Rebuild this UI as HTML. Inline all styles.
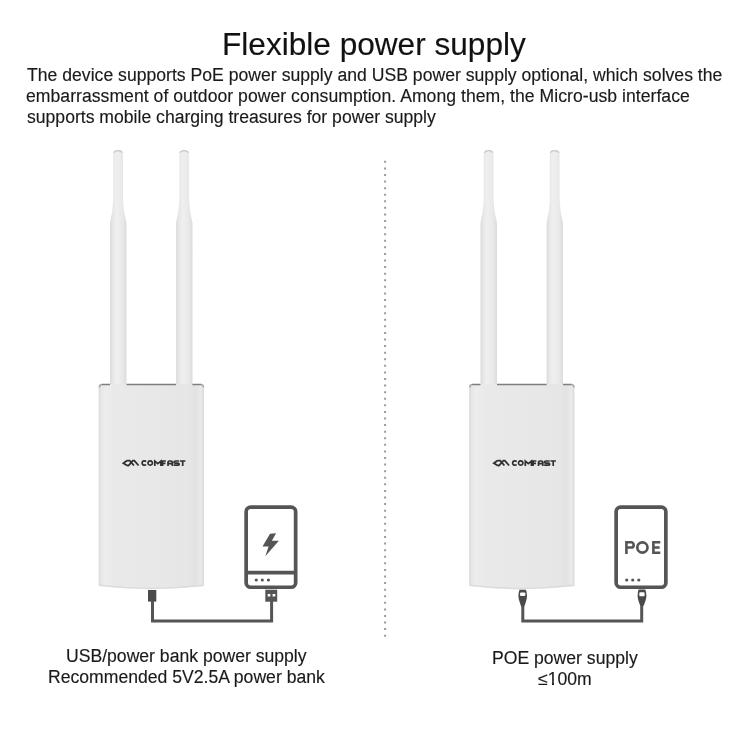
<!DOCTYPE html>
<html><head><meta charset="utf-8">
<style>
html,body{margin:0;padding:0;background:#fff;width:750px;height:750px;overflow:hidden;}
body{position:relative;font-family:"Liberation Sans",sans-serif;color:#1a1a1a;}
.t{position:absolute;white-space:nowrap;line-height:1;will-change:transform;-webkit-text-stroke:0.15px #1a1a1a;}
#title{left:221.8px;top:28.6px;font-size:31.6px;color:#111;}
#p1{left:26.6px;top:67.0px;font-size:17.6px;letter-spacing:0.012px;}
#p2{left:25.8px;top:87.5px;font-size:17.6px;letter-spacing:0.035px;}
#p3{left:26.5px;top:109.3px;font-size:17.6px;}
#c1{left:66px;top:647.7px;font-size:17.6px;}
#c2{left:48px;top:669px;font-size:17.6px;}
#c3{left:492.3px;top:650.1px;font-size:17.6px;}
#c4{left:538px;top:671.2px;font-size:17.6px;}
svg{position:absolute;left:0;top:0;}
</style></head><body>
<svg width="750" height="750" viewBox="0 0 750 750">
  <defs>
    <linearGradient id="ag" x1="0" x2="1" y1="0" y2="0">
      <stop offset="0" stop-color="#dadada"/><stop offset="0.18" stop-color="#e8e8e8"/><stop offset="0.4" stop-color="#efefef"/><stop offset="0.75" stop-color="#e9e9e9"/><stop offset="1" stop-color="#dcdcdc"/>
    </linearGradient>
    <linearGradient id="bg" x1="0" x2="1" y1="0" y2="0">
      <stop offset="0" stop-color="#d8d8d8"/><stop offset="0.02" stop-color="#e6e6e6"/><stop offset="0.06" stop-color="#ededed"/><stop offset="0.16" stop-color="#e9e9e9"/><stop offset="0.5" stop-color="#e8e8e8"/><stop offset="0.86" stop-color="#e6e6e6"/><stop offset="0.92" stop-color="#e2e2e2"/><stop offset="0.97" stop-color="#eaeaea"/><stop offset="1" stop-color="#dadada"/>
    </linearGradient>
    <g id="dev">
      <!-- antennas -->
      <path d="M113.2,153.2 Q113.4,150 118.1,150 Q122.9,150 123,153.2 L123,199.5 Q123.4,212 126.5,223 L126.5,387 L110,387 L110,223 Q112.8,212 113.2,199.5 Z" fill="url(#ag)"/>
      <path d="M179.3,153.2 Q179.5,150 184.2,150 Q189,150 189.1,153.2 L189.1,199.5 Q189.5,212 192.5,223 L192.5,387 L176.1,387 L176.1,223 Q178.9,212 179.3,199.5 Z" fill="url(#ag)"/>
      <path d="M113.8,152.6 Q115,150.7 118.1,150.7 Q121.2,150.7 122.4,152.6" fill="none" stroke="#c8c8c8" stroke-width="1.2"/>
      <path d="M179.9,152.6 Q181.1,150.7 184.2,150.7 Q187.3,150.7 188.5,152.6" fill="none" stroke="#c8c8c8" stroke-width="1.2"/>
      <!-- body -->
      <path d="M98.7,386.5 Q98.7,384 101,384 L201.7,384 Q204,384 204,386.5 L204,586 Q151.3,592.5 98.7,586 Z" fill="url(#bg)"/>
      <path d="M99,585.3 Q151.3,591.6 203.7,585.3" fill="none" stroke="#dcdcdc" stroke-width="1.4"/>
      <path d="M101.5,384.5 L110,384.5 M126.5,384.5 L176.1,384.5 M192.4,384.5 L201.2,384.5" fill="none" stroke="#7e7e7e" stroke-width="1.5"/>
      <path d="M99.3,387.5 Q99.5,384.5 101.8,384.5 M201,384.5 Q203.3,384.5 203.5,387.5" fill="none" stroke="#a6a6a6" stroke-width="1.5"/>
      <!-- logo -->
      <path d="M127.1,460.6 L123.4,463.15 L127.1,465.5 M127.1,460.6 L129.7,460.6 L133.9,465.5 M127.1,465.5 L128.5,465.5 L132.9,460.6 L134.3,460.6 L138.6,465.5" fill="none" stroke="#303030" stroke-width="1.8" stroke-linejoin="miter"/>
      <path d="M146.2,461.5 Q145.4,460.95 144.3,460.95 A2.15,2.1 0 0 0 144.3,465.15 Q145.4,465.15 146.2,464.6 M150.2,460.95 A2.25,2.1 0 1 0 150.21,460.95 Z M154.8,465.9 V461 L157.85,463.6 L160.9,461 V465.9 M162.6,465.9 V461 H165.9 M162.6,463.3 H165.5 M168,465.9 V462.6 Q168,461 169.7,461 H170.6 Q172.3,461 172.3,462.6 V465.9 M168,463.7 H172.3 M179.2,461 H175.5 Q174,461 174,462.1 Q174,463.1 175.5,463.1 H177.7 Q179.2,463.1 179.2,464.2 Q179.2,465.2 177.7,465.2 H173.7 M180,461 H185.4 M182.7,461 V465.9" fill="none" stroke="#303030" stroke-width="1.7"/>
    </g>
  </defs>
  <use href="#dev"/>
  <use href="#dev" transform="translate(370.5,0)"/>

  <!-- dotted divider -->
  <line x1="385.1" y1="160.8" x2="385.1" y2="637" stroke="#9a9a9a" stroke-width="2" stroke-dasharray="2 4.582"/>

  <!-- left connector & cable -->
  <rect x="148" y="590" width="8.3" height="11.6" fill="#4a4a4a"/>
  <path d="M152.5,601 L152.5,621.1 L271.6,621.1 L271.6,601" fill="none" stroke="#555" stroke-width="3"/>

  <!-- power bank -->
  <rect x="246.15" y="507.15" width="49.5" height="80.1" rx="4.5" fill="#fff" stroke="#555" stroke-width="3.7"/>
  <line x1="246" y1="572.7" x2="296" y2="572.7" stroke="#555" stroke-width="3.7"/>
  <circle cx="256.3" cy="580" r="1.6" fill="#555"/>
  <circle cx="262.3" cy="580" r="1.6" fill="#555"/>
  <circle cx="268.4" cy="580" r="1.6" fill="#555"/>
  <path d="M270,533.7 L276.1,533.3 L271.9,540.7 L278.9,540.7 L265.3,556.2 L268.6,546.4 L262.5,546.4 Z" fill="#555"/>
  <rect x="265.3" y="589.7" width="11.9" height="12" fill="#555"/>
  <rect x="267.7" y="594" width="2.6" height="2.5" fill="#fff"/>
  <rect x="272.6" y="594" width="2.7" height="2.5" fill="#fff"/>

  <!-- right connector & cable -->
  <path d="M522.8,606 L522.8,621.1 L641.7,621.1 L641.7,605.5" fill="none" stroke="#555" stroke-width="3"/>
  <path d="M519.5,589.8 H525.9 Q527,592 527,595.8 Q527,599.5 524.3,606.5 H521.2 Q518.4,599.5 518.4,595.8 Q518.4,592 519.5,589.8 Z" fill="#4a4a4a"/>
  <rect x="520.1" y="592.4" width="5.2" height="3.6" rx="0.8" fill="#fff"/>

  <!-- POE box -->
  <rect x="616.15" y="507.15" width="49.7" height="80.1" rx="4.5" fill="#fff" stroke="#555" stroke-width="3.7"/>
  <circle cx="626.7" cy="580" r="1.6" fill="#555"/>
  <circle cx="632.7" cy="580" r="1.6" fill="#555"/>
  <circle cx="638.8" cy="580" r="1.6" fill="#555"/>
  <path d="M626.4,554 V542.3 H631.1 A2.6,2.6 0 0 1 631.1,547.5 H626.4 M660.3,542.3 H653.4 V552.7 H660.3 M653.4,547.5 H659.6" fill="none" stroke="#555" stroke-width="2.6"/>
  <circle cx="642.4" cy="547.5" r="5.1" fill="none" stroke="#555" stroke-width="2.7"/>
  <path d="M638.6,589.5 H645.3 Q646.4,591.8 646.4,595.8 Q646.4,599.5 643.5,606 H640.4 Q637.6,599.5 637.6,595.8 Q637.6,591.8 638.6,589.5 Z" fill="#4a4a4a"/>
  <rect x="639.3" y="592.2" width="5.3" height="4" rx="0.8" fill="#fff"/>
</svg>

<div class="t" id="title">Flexible power supply</div>
<div class="t" id="p1">The device supports PoE power supply and USB power supply optional, which solves the</div>
<div class="t" id="p2">embarrassment of outdoor power consumption. Among them, the Micro-usb interface</div>
<div class="t" id="p3">supports mobile charging treasures for power supply</div>
<div class="t" id="c1">USB/power bank power supply</div>
<div class="t" id="c2">Recommended 5V2.5A power bank</div>
<div class="t" id="c3">POE power supply</div>
<div class="t" id="c4">≤100m</div>
<div style="position:absolute;left:548px;top:683px;width:4px;height:2px;background:#fff;will-change:transform"></div>
<div style="position:absolute;left:554px;top:683px;width:4px;height:2px;background:#fff;will-change:transform"></div>
</body></html>
